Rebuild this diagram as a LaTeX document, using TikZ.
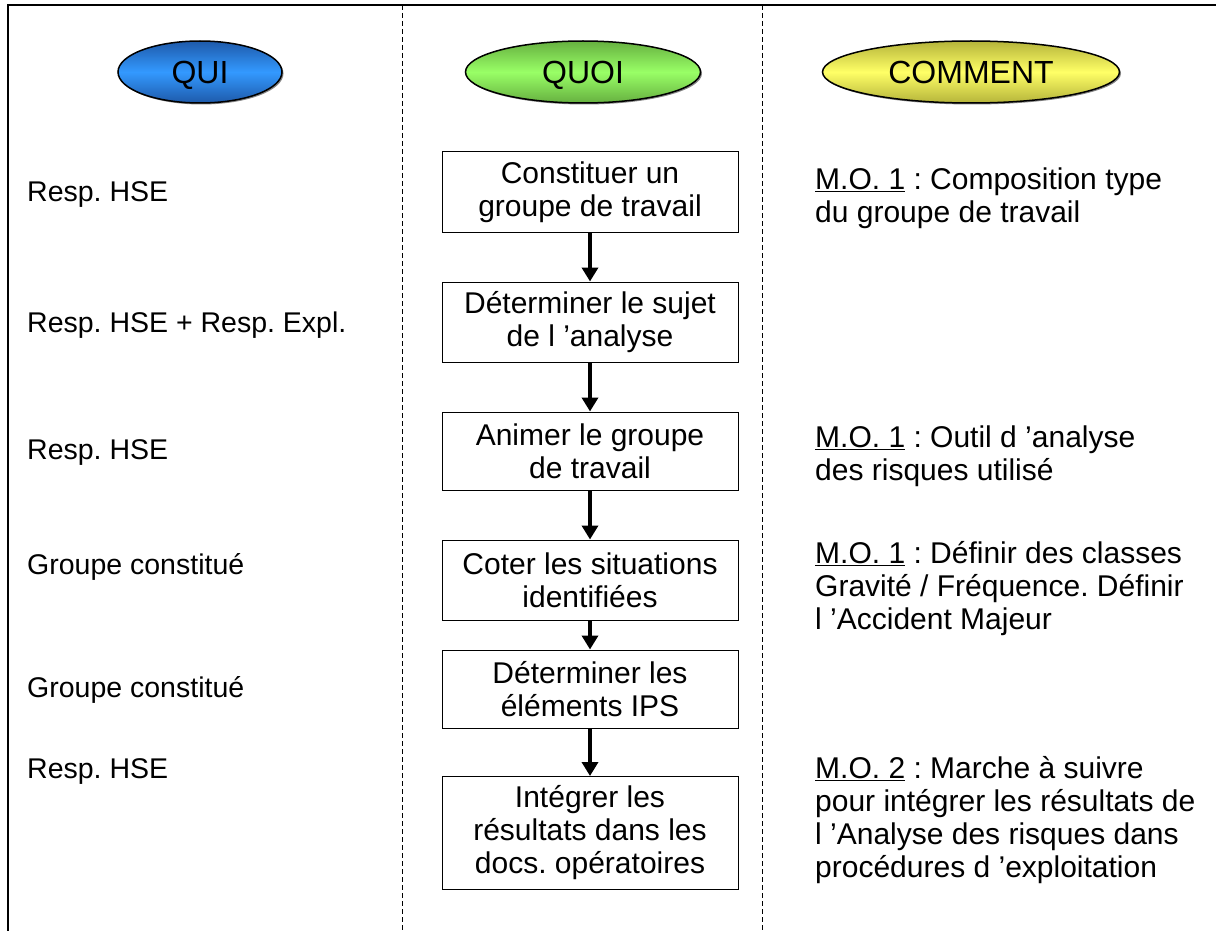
\documentclass[tikz,border=0pt]{standalone}
\usepackage{fontspec}
\setmainfont{Liberation Sans}
\usetikzlibrary{arrows.meta,shadows,shapes.geometric}
\definecolor{bluemid}{HTML}{3399FF}
\definecolor{blueedge}{HTML}{1E5AAA}
\definecolor{greenmid}{HTML}{99FF66}
\definecolor{greenedge}{HTML}{66B040}
\definecolor{yellowmid}{HTML}{FFFF66}
\definecolor{yellowedge}{HTML}{B5B43A}
\frenchspacing
\begin{document}
\begin{tikzpicture}[x=1pt,y=-1pt,
 txt/.style={font=\fontsize{30}{33}\selectfont, inner sep=0pt},
 quitxt/.style={font=\fontsize{28.5}{33}\selectfont, inner sep=0pt, anchor=west},
 comtxt/.style={txt, anchor=west, align=left},
 stepbox/.style={draw, line width=1pt, minimum width=296pt, align=center, txt},
 head/.style={ellipse, draw, line width=1.5pt, font=\fontsize{32}{38}\selectfont, inner sep=0pt, minimum height=62pt,
   text height=23pt, text depth=0pt,
   drop shadow={shadow xshift=1.5pt, shadow yshift=-1.5pt, fill=black!60, opacity=0.8}},
 flow/.style={line width=4pt, -{Triangle[width=16pt,length=14pt]}},
 divider/.style={line width=1pt, dash pattern=on 5pt off 3pt},
]
\useasboundingbox (0,0) rectangle (1216,931);
% frame
\draw[line width=1.5pt] (8,931) -- (8,5) -- (1216,5);
\draw[divider] (402,5) -- (402,931);
\draw[divider] (762,5) -- (762,931);
% headers
\node[head, minimum width=164pt, top color=blueedge, bottom color=blueedge, middle color=bluemid] (hqui) at (200,72) {QUI};
\node[head, minimum width=235pt, top color=greenedge, bottom color=greenedge, middle color=greenmid] (hquoi) at (583,72) {QUOI};
\node[head, minimum width=297pt, top color=yellowedge, bottom color=yellowedge, middle color=yellowmid] (hcomment) at (971,72) {COMMENT};
% who
\node[quitxt] (q1) at (27,195) {Resp. HSE};
\node[quitxt] (q2) at (27,325) {Resp. HSE + Resp. Expl.};
\node[quitxt] (q3) at (27,453) {Resp. HSE};
\node[quitxt] (q4) at (27,567) {Groupe constitué};
\node[quitxt] (q5) at (27,690) {Groupe constitué};
\node[quitxt] (q6) at (27,772) {Resp. HSE};
% steps
\node[stepbox, minimum height=80pt] (b1) at (590,192) {Constituer un\\groupe de travail};
\node[stepbox, minimum height=80pt] (b2) at (590,322) {Déterminer le sujet\\de l ’analyse};
\node[stepbox, minimum height=78pt] (b3) at (590,451) {Animer le groupe\\de travail};
\node[stepbox, minimum height=80pt] (b4) at (590,580) {Coter les situations\\identifiées};
\node[stepbox, minimum height=78pt] (b5) at (590,689) {Déterminer les\\éléments IPS};
\node[stepbox, minimum height=113pt] (b6) at (590,833) {Intégrer les\\résultats dans les\\docs. opératoires};
\draw[flow] (b1.south) -- (b2.north);
\draw[flow] (b2.south) -- (b3.north);
\draw[flow] (b3.south) -- (b4.north);
\draw[flow] (b4.south) -- (b5.north);
\draw[flow] (b5.south) -- (b6.north);
% how
\node[comtxt] (c1) at (815,198) {\underline{M.O. 1} : Composition type\\du groupe de travail};
\node[comtxt] (c2) at (815,456) {\underline{M.O. 1} : Outil d ’analyse\\des risques utilisé};
\node[comtxt] (c3) at (815,589) {\underline{M.O. 1} : Définir des classes\\Gravité / Fréquence. Définir\\l ’Accident Majeur};
\node[comtxt] (c4) at (815,820) {\underline{M.O. 2} : Marche à suivre\\pour intégrer les résultats de\\l ’Analyse des risques dans\\procédures d ’exploitation};
\end{tikzpicture}
\end{document}
